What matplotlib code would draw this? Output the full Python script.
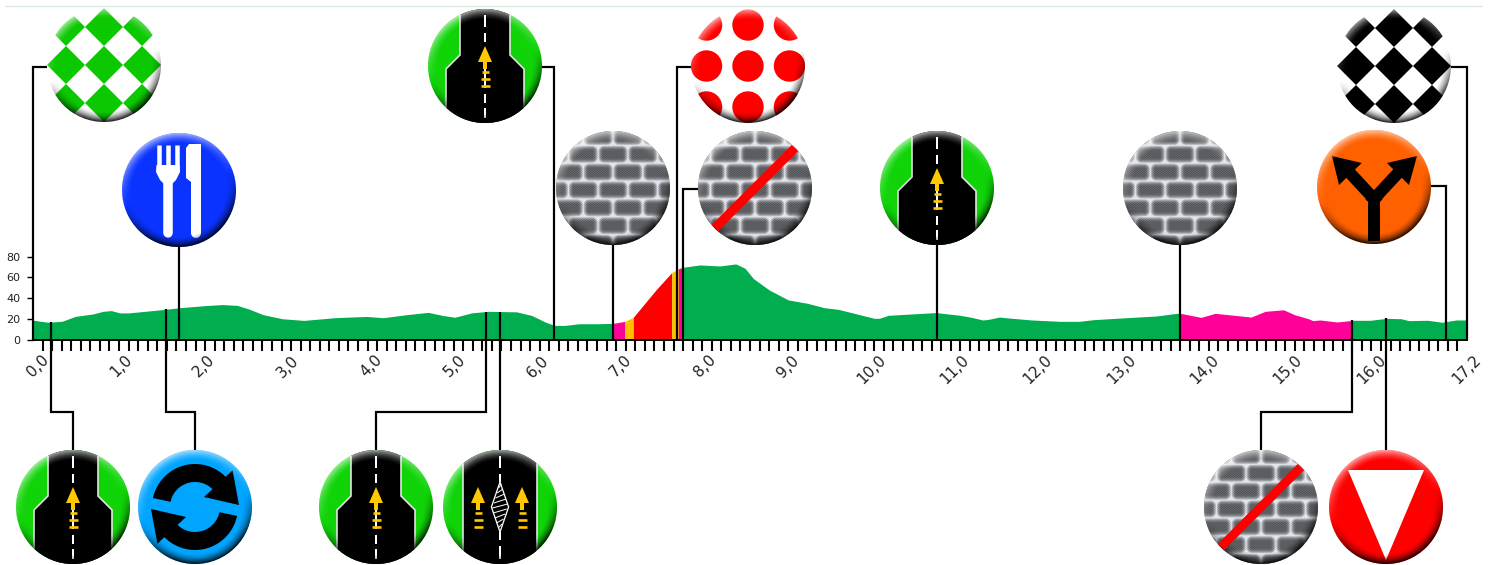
import matplotlib
matplotlib.use('Agg')
import matplotlib.pyplot as plt
from matplotlib.patches import Circle, Polygon
from matplotlib.transforms import ScaledTranslation
import numpy as np

# profile
profile_km = [0, 0.18, 0.35, 0.51, 0.72, 0.84, 0.94, 1.04, 1.15, 1.6, 1.76, 2.07, 2.27, 2.45, 2.59,
              2.76, 2.99, 3.25, 3.62, 4.0, 4.2, 4.48, 4.74, 4.91, 5.06, 5.26, 5.46, 5.8, 5.98, 6.15,
              6.26, 6.38, 6.55, 6.78, 6.96, 7.1, 7.2, 7.34, 7.48, 7.66, 7.73, 7.79, 8.0, 8.24, 8.43,
              8.54, 8.64, 8.83, 9.06, 9.29, 9.49, 9.66, 10.09, 10.15, 10.26, 10.83, 11.12, 11.26,
              11.39, 11.46, 11.59, 11.72, 11.98, 12.32, 12.55, 12.72, 13.18, 13.47, 13.72, 13.78,
              14.01, 14.18, 14.61, 14.78, 15.0, 15.13, 15.3, 15.35, 15.44, 15.64, 15.84, 16.04,
              16.24, 16.41, 16.5, 16.73, 16.9, 17.07, 17.2]
profile_alt = [19, 17, 18, 22.7, 25, 27.5, 28.2, 26, 26, 29.5, 31, 33, 34, 33.2, 29.7,
               24.3, 20.4, 18.8, 21.4, 22.6, 21.4, 24.3, 26.5, 23.6, 21.8, 26, 27.5, 27, 23.6, 17,
               14, 14, 15.6, 15.6, 16, 17.9, 21.8, 35.3, 48.8, 64.6, 68, 69.7, 72, 71, 73,
               68.8, 59, 48, 38.4, 35.2, 31, 29.4, 20.8, 20.8, 23.7, 26.3, 23.7, 21.7,
               19.2, 19.8, 22, 21, 19.2, 17.9, 17.9, 19.5, 21.7, 23, 25.6, 25.3,
               21.7, 25.6, 22, 27.5, 29, 24.3, 20.4, 18.6, 19.2, 17.3, 18.9, 18.9,
               20.8, 20.4, 18.6, 18.9, 17, 19.2, 19.2]

# coloured stretches of the profile
segment_edges = [0, 6.96, 7.1, 7.2, 7.66, 7.74, 7.8, 13.76, 15.82, 17.2]
segment_colors = ['#00AE4F', '#FF0099', '#FFC000', '#FF0000', '#FFC000', '#FF0099',
                  '#00AE4F', '#FF0099', '#00AE4F']

y_ticks = [0, 20, 40, 60, 80]
x_tick_pos = list(range(17)) + [17.2]
x_tick_labels = ['0,0', '1,0', '2,0', '3,0', '4,0', '5,0', '6,0', '7,0', '8,0', '9,0', '10,0',
                 '11,0', '12,0', '13,0', '14,0', '15,0', '16,0', '17,2']

# km of the signs above and below the profile
top_signs = ['checker_green', 'fork', 'road', 'brick', 'polka', 'brick_end', 'road', 'brick',
             'split', 'checker_black']
top_km = [0, 1.75, 6.25, 6.957, 7.725, 7.797, 10.843, 13.758, 16.95, 17.2]
bottom_signs = ['road', 'roundabout', 'road', 'road_island', 'brick_end', 'yield']
bottom_km = [0.216, 1.595, 5.43, 5.6, 15.82, 16.23]

PX = 0.72  # one pixel in points at dpi 100
R = 57


def shade(ov, cx, cy, clip):
    n = 2 * R
    yy, xx = np.mgrid[-1:1:n * 1j, -1:1:n * 1j]
    r = np.sqrt(xx ** 2 + yy ** 2) + 1e-6
    rim = np.clip((r - 0.82) / 0.18, 0, 1) ** 1.6
    side = (0.3 * xx + yy) / r
    dark = rim * np.clip(side * 1.2, 0, 1) * 0.85
    light = rim * np.clip(-side, 0, 1) * 0.6
    img = np.zeros((n, n, 4))
    img[..., :3] = (light > 0)[..., None]
    img[..., 3] = np.maximum(dark, light)
    im = ov.imshow(img, extent=(cx - R, cx + R, cy + R, cy - R), aspect='auto', zorder=5,
                   interpolation='bilinear')
    im.set_clip_path(clip)


def poly(ov, clip, pts, cx, cy, color, **kw):
    p = Polygon([(cx + a, cy + b) for a, b in pts], closed=True, facecolor=color,
                edgecolor=kw.pop('edgecolor', 'none'), zorder=kw.pop('zorder', 3), **kw)
    ov.add_patch(p)
    p.set_clip_path(clip)
    return p


def seg(ov, clip, x, y, color, width, cap='butt', zorder=3):
    l, = ov.plot(x, y, color=color, lw=width * PX, solid_capstyle=cap, zorder=zorder)
    l.set_clip_path(clip)


def yellow_arrow(ov, clip, cx, cy):
    pts = [(0, -20), (7, -4), (2, -4), (2, 3), (-2, 3), (-2, -4), (-7, -4)]
    poly(ov, clip, pts, cx, cy, '#FFC800', zorder=4)
    for off, w in ((6, 3.5), (13, 4.5), (20, 4.5)):
        seg(ov, clip, [cx - w, cx + w], [cy + off, cy + off], '#FFC800', 2.6, zorder=4)


def center_dashes(ov, clip, cx, cy, dashes):
    for a, b in dashes:
        seg(ov, clip, [cx, cx], [cy + a, cy + b], 'white', 2)


def draw_road(ov, clip, cx, cy):
    pts = [(-25, -60), (-25, -11), (-39, 3), (-39, 60), (39, 60), (39, 3), (25, -11), (25, -60)]
    poly(ov, clip, pts, cx, cy, 'black', edgecolor='#E8E8E8', linewidth=1.6 * PX)
    center_dashes(ov, clip, cx, cy, [(-51, -39), (-33, -24), (-18, 22), (28, 37), (42, 52)])
    yellow_arrow(ov, clip, cx, cy)


def draw_road_island(ov, clip, cx, cy):
    pts = [(-37, -60), (-37, 60), (37, 60), (37, -60)]
    poly(ov, clip, pts, cx, cy, 'black', edgecolor='#E8E8E8', linewidth=1.6 * PX)
    center_dashes(ov, clip, cx, cy, [(-51, -39), (-33, -25), (25, 33), (39, 52)])
    yellow_arrow(ov, clip, cx - 22, cy)
    yellow_arrow(ov, clip, cx + 22, cy)
    diamond = [(0, -25), (8.6, 0), (0, 25), (-8.6, 0)]
    poly(ov, clip, diamond, cx, cy, 'black', edgecolor='white', linewidth=1.3 * PX, zorder=4)
    for off in range(-21, 22, 5):
        half = 8.0 * (1 - abs(off) / 25)
        seg(ov, clip, [cx - half, cx + half], [cy + off + 2, cy + off - 2], 'white', 1, zorder=4)


def draw_checker(ov, clip, cx, cy, color):
    for i in range(-2, 3):
        for j in range(-2, 3):
            a, b = i * 38, j * 38
            poly(ov, clip, [(a, b - 19), (a + 19, b), (a, b + 19), (a - 19, b)], cx, cy, color)


def draw_polka(ov, clip, cx, cy):
    for i in (-1, 0, 1):
        for j in (-1, 0, 1):
            c = Circle((cx + i * 41.5, cy + j * 41), 15.7, facecolor='#FF0000', zorder=3)
            ov.add_patch(c)
            c.set_clip_path(clip)


def draw_bricks(ov, clip, cx, cy, slash=False):
    n = 2 * R
    yy, xx = np.mgrid[-R:R:n * 1j, -R:R:n * 1j]
    h, w = 18.0, 30.0
    row = np.floor((yy - 2) / h + 0.5)
    dy = np.abs((yy - 2) - row * h)
    shift = np.where(row % 2 == 0, 0, w / 2)
    col = np.floor((xx - shift) / w + 0.5)
    dx = np.abs((xx - shift) - col * w)
    # soft rounded bricks, light mortar fading into a dark core
    d = np.sqrt((np.clip(dx - w / 2 + 6, 0, None)) ** 2 + (np.clip(dy - h / 2 + 6, 0, None)) ** 2)
    v = 0.36 + 0.52 * np.clip(d / 6, 0, 1) ** 2.2 + 0.04 * np.sin(xx * 2.3) * np.sin(yy * 2.9)
    img = np.clip(np.dstack([v, v * 1.02, v * 1.05]), 0, 1)
    im = ov.imshow(img, extent=(cx - R, cx + R, cy + R, cy - R), aspect='auto', zorder=2,
                   interpolation='bilinear')
    im.set_clip_path(clip)
    if slash:
        seg(ov, clip, [cx - 40, cx + 40], [cy + 40, cy - 40], '#FF0000', 9, zorder=6)


def draw_fork(ov, clip, cx, cy):
    for a, b in ((-22.5, -18), (-13.5, -9), (-4, 0.5)):
        seg(ov, clip, [cx + (a + b) / 2] * 2, [cy - 45, cy - 20], 'white', b - a)
    poly(ov, clip, [(-22.5, -25), (0.5, -25), (1, -18), (-3, -10), (-7, -6), (-15, -6), (-19, -10), (-23, -18)],
         cx, cy, 'white')
    seg(ov, clip, [cx - 11, cx - 11], [cy - 10, cy + 43], 'white', 9.5, cap='round')
    poly(ov, clip, [(7, -42), (10, -46), (22, -46), (22, 43), (12, 43), (12, -8), (7, -12)],
         cx, cy, 'white')
    seg(ov, clip, [cx + 17, cx + 17], [cy, cy + 43], 'white', 10, cap='round')


def draw_roundabout(ov, clip, cx, cy):
    t = np.radians(np.linspace(22, 168, 40))
    outer = [(43 * np.cos(a), -43 * np.sin(a)) for a in t]
    inner = [(25 * np.cos(a), -25 * np.sin(a)) for a in t[::-1]]
    arc = outer + inner
    head = [(37.6, -36.7), (44, -2), (9, -10)]
    for sgn in (1, -1):
        poly(ov, clip, [(sgn * a, sgn * b) for a, b in arc], cx, cy, 'black')
        poly(ov, clip, [(sgn * a, sgn * b) for a, b in head], cx, cy, 'black', zorder=4)


def draw_yield(ov, clip, cx, cy):
    poly(ov, clip, [(-38, -37), (38, -37), (0, 53)], cx, cy, 'white')


def draw_split(ov, clip, cx, cy):
    seg(ov, clip, [cx, cx], [cy + 54, cy + 10], 'black', 12)
    seg(ov, clip, [cx + 0.1, cx - 24], [cy + 12, cy - 14], 'black', 12, cap='projecting')
    seg(ov, clip, [cx - 0.1, cx + 24], [cy + 12, cy - 14], 'black', 12, cap='projecting')
    poly(ov, clip, [(-42, -31), (-12.3, -24), (-35, -2)], cx, cy, 'black')
    poly(ov, clip, [(43, -31), (13, -24), (35, -2)], cx, cy, 'black')


def draw_sign(ov, name, cx, cy):
    base = {'road': '#10D408', 'road_island': '#10D408', 'checker_green': 'white',
            'checker_black': 'white', 'polka': 'white', 'fork': '#0A33FF', 'roundabout': '#00A5FF',
            'yield': '#FF0000', 'split': '#FF6000', 'brick': '#999999', 'brick_end': '#999999'}[name]
    clip = Circle((cx, cy), R, facecolor=base, edgecolor='none', zorder=1)
    ov.add_patch(clip)

    if name == 'road':
        draw_road(ov, clip, cx, cy)
    elif name == 'road_island':
        draw_road_island(ov, clip, cx, cy)
    elif name == 'checker_green':
        draw_checker(ov, clip, cx, cy, '#0CC800')
    elif name == 'checker_black':
        draw_checker(ov, clip, cx, cy, 'black')
    elif name == 'polka':
        draw_polka(ov, clip, cx, cy)
    elif name == 'fork':
        draw_fork(ov, clip, cx, cy)
    elif name == 'roundabout':
        draw_roundabout(ov, clip, cx, cy)
    elif name == 'yield':
        draw_yield(ov, clip, cx, cy)
    elif name == 'split':
        draw_split(ov, clip, cx, cy)
    elif name == 'brick':
        draw_bricks(ov, clip, cx, cy)
    elif name == 'brick_end':
        draw_bricks(ov, clip, cx, cy, slash=True)
    shade(ov, cx, cy, clip)


def main():
    fig = plt.figure(figsize=(14.97, 5.65), dpi=100)
    ax = fig.add_axes([33 / 1497, (565 - 340) / 565, 1434 / 1497, 83.4 / 565])

    km = np.array(sorted(set(profile_km) | set(segment_edges)))
    alt = np.interp(km, profile_km, profile_alt)
    for i, color in enumerate(segment_colors):
        mask = (km >= segment_edges[i]) & (km <= segment_edges[i + 1])
        ax.fill_between(km[mask], 0, alt[mask], color=color, linewidth=0)

    ax.set_xlim(0, 17.2)
    ax.set_ylim(0, 80)
    for s in ('top', 'right'):
        ax.spines[s].set_visible(False)
    ax.spines['left'].set_linewidth(1.4)
    ax.spines['bottom'].set_linewidth(1.4)
    ax.set_yticks(y_ticks)
    ax.tick_params(axis='y', length=4, width=1, pad=5, labelsize=8, labelcolor='#222222')
    ax.set_xticks(np.linspace(0, 17.2, 151), minor=True)
    ax.tick_params(axis='x', which='minor', length=8, width=1.5)
    ax.set_xticks(x_tick_pos)
    ax.set_xticklabels(x_tick_labels, rotation=45, ha='center', va='top', fontsize=11, color='#222222')
    ax.tick_params(axis='x', which='major', length=0, pad=9)
    for lab, text in zip(ax.get_xticklabels(), x_tick_labels):
        if text != '17,2':
            lab.set_transform(lab.get_transform() + ScaledTranslation(4.5 / 100, 0, fig.dpi_scale_trans))

    # overlay in pixel coordinates for the signs and their leader lines
    ov = fig.add_axes([0, 0, 1, 1], facecolor='none')
    ov.set_xlim(0, 1497)
    ov.set_ylim(565, 0)
    ov.set_autoscale_on(False)
    ov.axis('off')

    def km_px(k):
        return 33 + k * 1434 / 17.2

    def leader(xs, ys):
        ov.plot(xs, ys, color='black', lw=2.2 * PX, solid_joinstyle='miter', solid_capstyle='butt', zorder=1)

    ov.plot([5, 1482], [5.5, 5.5], color='#D8E8DC', lw=0.8, zorder=0)

    top_centers = [(104, 65), (179, 190), (485, 66), (613, 188), (748, 66), (755, 188), (937, 188),
                   (1180, 188), (1374, 187), (1394, 66)]
    top_elbows = [66.5, None, 67, None, 67, 189, None, None, 186, 67]
    for name, k, (cx, cy), elbow in zip(top_signs, top_km, top_centers, top_elbows):
        x = km_px(k)
        if elbow is None:
            leader([x, x], [340, cy])
        else:
            leader([x, x, cx], [340, elbow, elbow])
        draw_sign(ov, name, cx, cy)

    bottom_centers = [(73, 507), (195, 507), (376, 507), (500, 507), (1261, 507), (1386, 507)]
    for name, k, (cx, cy) in zip(bottom_signs, bottom_km, bottom_centers):
        x = km_px(k)
        top = 340 - 1.0425 * np.interp(k, profile_km, profile_alt)
        if abs(x - cx) < 1:
            leader([x, x], [top, cy])
        else:
            leader([x, x, cx, cx], [top, 412, 412, cy])
        draw_sign(ov, name, cx, cy)

    fig.savefig('out.png', dpi=100)


if __name__ == '__main__':
    main()
